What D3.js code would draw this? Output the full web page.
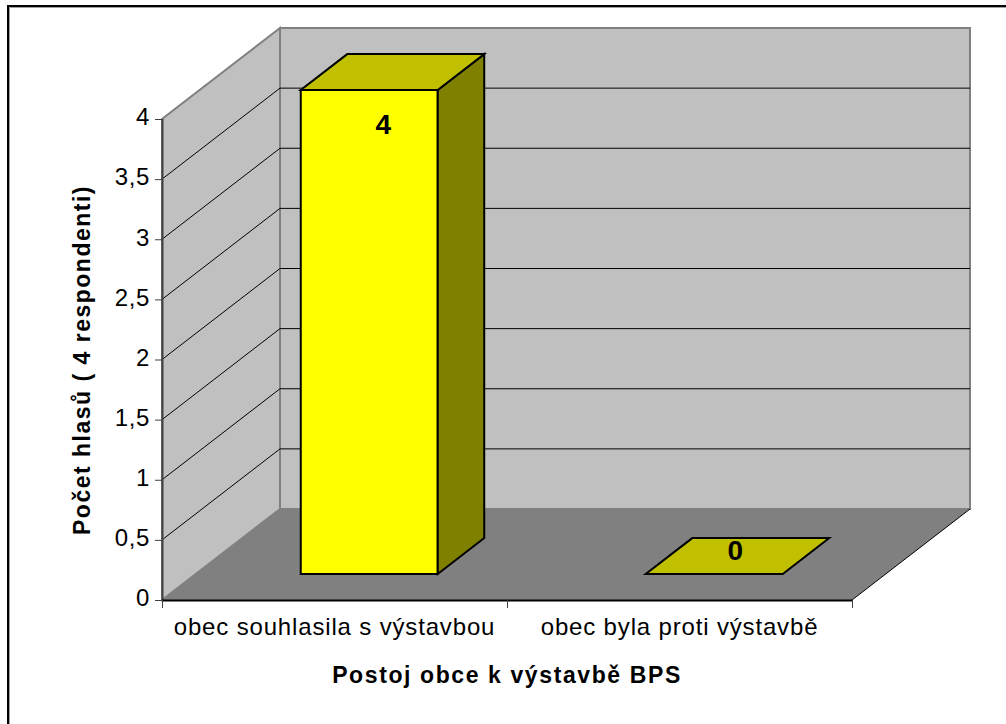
<!DOCTYPE html>
<html><head><meta charset="utf-8">
<style>html,body{margin:0;padding:0;background:#fff}svg{display:block}text{font-family:"Liberation Sans",Arial,sans-serif;fill:#000}</style>
<script src="https://cdn.jsdelivr.net/npm/d3@7"></script></head><body>
<svg width="1006" height="724"></svg>
<script>
const categories = ["obec souhlasila s výstavbou", "obec byla proti výstavbě"];
const values = [4, 0];
const yTicks = [0, 0.5, 1, 1.5, 2, 2.5, 3, 3.5, 4];
const yTitle = "Počet hlasů ( 4 respondenti)";
const xTitle = "Postoj obce k výstavbě BPS";

const svg = d3.select("svg");
const x = d3.scaleBand().domain(categories).range([162, 852]);
const y = d3.scaleLinear().domain([0, 4]).range([600, 119]);
const depth = {dx: 118, dy: -91};
const at = (px, py, d) => [px + depth.dx * d, py + depth.dy * d];
const path = pts => "M" + pts.map(p => p.join(",")).join("L") + "Z";
const fmt = v => String(v).replace(".", ",");
const [x0, x1] = x.range();

// frame: only the top and left edges fall inside the picture
svg.append("path").attr("fill","none").attr("stroke","#a0a0a0").attr("stroke-width",1).attr("d","M1006,7.5H9.5V724");
svg.append("path").attr("fill","none").attr("stroke","#000").attr("stroke-width",2).attr("d","M1006,6H8V724");

// walls
svg.append("path").attr("d", path([at(x0,y(0),1),at(x1,y(0),1),at(x1,y(4),1),at(x0,y(4),1)])).attr("fill","#c0c0c0").attr("stroke","#808080").attr("stroke-width",2);
svg.append("path").attr("d", path([at(x0,y(0),0),at(x0,y(0),1),at(x0,y(4),1),at(x0,y(4),0)])).attr("fill","#c0c0c0").attr("stroke","#808080").attr("stroke-width",2);
svg.append("path").attr("d", path([at(x0,y(0),0),at(x1,y(0),0),at(x1,y(0),1),at(x0,y(0),1)])).attr("fill","#808080");

// grid
svg.append("g").selectAll("path").data(yTicks.filter(t => t > 0 && t < 4)).join("path")
  .attr("fill","none").attr("stroke","#000").attr("stroke-width",1)
  .attr("d", t => d3.line()([at(x0,y(t),0),at(x0,y(t),1),at(x1,y(t),1)]));
svg.append("path").attr("fill","none").attr("stroke","#000").attr("d", d3.line()([at(x1,y(0),0),at(x1,y(0),1)]));

// axes
const gy = svg.append("g").attr("transform",`translate(${x0},0)`).call(d3.axisLeft(y).tickValues(yTicks).tickFormat(fmt).tickSize(7).tickPadding(5));
gy.select(".domain").attr("stroke","#404040").attr("stroke-width",2).attr("d",`M0.5,${y(4)}V${y(0)}`);
gy.selectAll("line").attr("stroke","#404040");
gy.selectAll("text").style("font-size","24px").style("letter-spacing","0.6px").attr("dy","0.24em");
const gx = svg.append("g").attr("transform",`translate(0,${y(0)})`).call(d3.axisBottom(x).tickSize(0).tickPadding(18));
gx.select(".domain").attr("stroke","#000").attr("stroke-width",2).attr("d",`M${x0},0.5H${x1}`);
gx.selectAll("text").style("font-size","24px").style("letter-spacing","0.84px");
gx.selectAll(".tick line").remove();
gx.selectAll("line.t").data([...categories.map(c => x(c)), x1]).join("line").attr("class","t")
  .attr("x1",d=>d+0.5).attr("x2",d=>d+0.5).attr("y1",0).attr("y2",8).attr("stroke","#404040");

// bars
const barW = x.bandwidth() * 0.397, dFront = 0.286, dBack = 0.68;
const barY = d3.scaleLinear().domain([0, 4]).range([y(0), y(4) - 3]);
const bars = svg.append("g").selectAll("g").data(categories.map((c,i)=>({c,v:values[i]}))).join("g");
const cx = d => x(d.c) + x.bandwidth()/2 - barW/2 + 1;
bars.filter(d=>d.v>0).append("path").attr("fill","#ffff00").attr("stroke","#000").attr("stroke-width",2)
  .attr("d", d => path([at(cx(d),barY(0),dFront),at(cx(d)+barW,barY(0),dFront),at(cx(d)+barW,barY(d.v),dFront),at(cx(d),barY(d.v),dFront)]));
bars.filter(d=>d.v>0).append("path").attr("fill","#808000").attr("stroke","#000").attr("stroke-width",2)
  .attr("d", d => path([at(cx(d)+barW,barY(0),dFront),at(cx(d)+barW,barY(0),dBack),at(cx(d)+barW,barY(d.v),dBack),at(cx(d)+barW,barY(d.v),dFront)]));
bars.append("path").attr("fill","#c0c000").attr("stroke","#000").attr("stroke-width",2)
  .attr("d", d => path([at(cx(d),barY(d.v),dFront),at(cx(d)+barW,barY(d.v),dFront),at(cx(d)+barW,barY(d.v),dBack),at(cx(d),barY(d.v),dBack)]));
bars.append("text").attr("text-anchor","middle").style("font-size","28px").style("font-weight","bold")
  .attr("x", d => at(cx(d)+barW/2,0,dFront)[0] + (d.v>0 ? 14 : 21))
  .attr("y", d => at(0,barY(d.v),dFront)[1] + (d.v>0 ? 44 : -14))
  .text(d => d.v);

// titles
svg.append("text").attr("text-anchor","middle").attr("x",507).attr("y",683).style("font-size","23px").style("font-weight","bold").style("letter-spacing","1.6px").text(xTitle);
svg.append("text").attr("text-anchor","middle").attr("transform","translate(90,360) rotate(-90)").style("font-size","23px").style("font-weight","bold").style("letter-spacing","1.5px").text(yTitle);
</script></body></html>
